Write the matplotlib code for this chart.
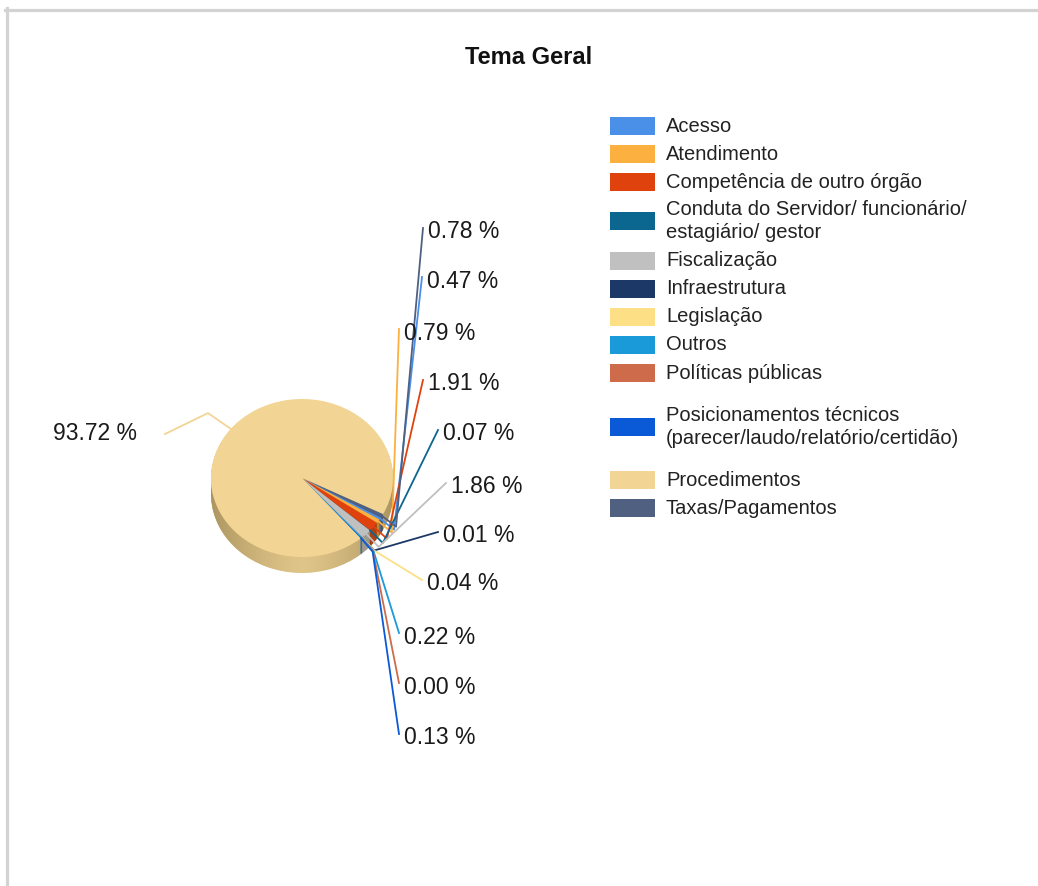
import numpy as np
import matplotlib
matplotlib.use("Agg")
import matplotlib.pyplot as plt
from matplotlib.patches import Polygon, Rectangle
from matplotlib.lines import Line2D
from matplotlib.colors import to_rgb

plt.rcParams['font.family'] = ['Liberation Sans', 'DejaVu Sans']

# dados
categorias = ['Acesso', 'Atendimento', 'Competência de outro órgão',
              'Conduta do Servidor/ funcionário/\nestagiário/ gestor',
              'Fiscalização', 'Infraestrutura', 'Legislação', 'Outros',
              'Políticas públicas',
              'Posicionamentos técnicos\n(parecer/laudo/relatório/certidão)',
              'Procedimentos', 'Taxas/Pagamentos']
percentuais = [0.47, 0.79, 1.91, 0.07, 1.86, 0.01, 0.04, 0.22, 0.00, 0.13, 93.72, 0.78]
cores = ['#4a8fe8', '#fbb040', '#e0420e', '#0b6690', '#c0c0c0', '#1c3867',
         '#fddf86', '#1a9ad9', '#cd6b4b', '#0a5ad7', '#f2d594', '#4f6080']

# posicao dos rotulos (pixels, borda esquerda / centro)
pos_rotulos = [(427, 281), (404, 333), (428, 384), (443, 434), (451, 487),
               (443, 536), (427, 584), (404, 637), (404, 687), (404, 738),
               (53, 434), (428, 232)]
# centro vertical de cada item da legenda (pixels)
y_legenda = [126, 154, 182, 221, 261, 289, 317, 345, 373, 427, 480, 508]

W, H = 1038, 886
CX, CY = 302, 478      # centro da pizza em pixels
RX, RY = 91, 79        # raio horizontal / vertical em pixels
D = 16 / RY            # espessura

def px(x, y):
    return (x - CX) / RX, (CY - y) / RY

fig = plt.figure(figsize=(W / 100, H / 100), dpi=100)
ax = fig.add_axes([0, 0, 1, 1])

def escurecer(c, f=0.8):
    r, g, b = to_rgb(c)
    return (r * f, g * f, b * f)

cores_lado = [escurecer(c, 0.92) for c in cores]

# lateral (camadas)
for k in np.linspace(D, 0.01, 25):
    ax.pie(percentuais, colors=cores_lado, startangle=-30, counterclock=False,
           radius=1, center=(0, -k), wedgeprops=dict(linewidth=0))

# sombreamento da lateral
t = np.linspace(np.pi, 2 * np.pi, 200)
banda = np.concatenate([np.c_[np.cos(t), np.sin(t)],
                        np.c_[np.cos(t[::-1]), np.sin(t[::-1]) - D]])
poly = Polygon(banda, closed=True, facecolor='none', edgecolor='none')
ax.add_patch(poly)
xs = np.linspace(-1, 1, 300)
grad = np.zeros((2, 300, 4))
grad[..., :3] = np.array(to_rgb('#5a4a20'))
grad[..., 3] = 0.38 * np.abs(xs) ** 1.4
im = ax.imshow(grad, extent=(-1, 1, -1 - D, 0), aspect='auto', zorder=3)
im.set_clip_path(poly)

# topo
wedges, _ = ax.pie(percentuais, colors=cores, startangle=-30, counterclock=False,
                   radius=1, center=(0, 0), wedgeprops=dict(linewidth=0))
for w in wedges:
    w.set_zorder(4)

# rotulos e linhas de chamada
for w, p, c, (lx, ly) in zip(wedges, percentuais, cores, pos_rotulos):
    ang = np.deg2rad((w.theta1 + w.theta2) / 2)
    x0, y0 = np.cos(ang), np.sin(ang)
    tx, ty = px(lx, ly)
    if p > 50:
        ex, ey = 1.32 * x0, 1.32 * y0
        fx, fy = px(lx + 112, ly)
    else:
        ex, ey = 1.12 * x0 + 0.05, 1.12 * y0 - 0.08
        fx, fy = px(lx - 5, ly - 4)
    ax.plot([x0, ex, fx], [y0, ey, fy], color=c, lw=1.3, zorder=5)
    ax.text(tx, ty, '{:.2f} %'.format(p), ha='left', va='center',
            fontsize=16.5, color='#1a1a1a', zorder=6)

ax.set_aspect('auto')
ax.set_xlim(-CX / RX, (W - CX) / RX)
ax.set_ylim(-(H - CY) / RY, CY / RY)
ax.axis('off')

# titulo
fig.text(529 / W, 1 - 57 / H, 'Tema Geral', ha='center', va='center',
         fontsize=17, fontweight='bold', color='#111111')

# legenda
for nome, c, yl in zip(categorias, cores, y_legenda):
    fig.add_artist(Rectangle((610 / W, 1 - (yl + 9) / H), 45 / W, 18 / H,
                             facecolor=c, edgecolor='none',
                             transform=fig.transFigure))
    fig.text(666 / W, 1 - yl / H, nome, ha='left', va='center',
             fontsize=14.5, color='#222222', linespacing=1.3)

# moldura
fig.add_artist(Line2D([6.5 / W, 6.5 / W], [0, 1 - 8 / H], color='#d3d3d3',
                      lw=2.3, transform=fig.transFigure))
fig.add_artist(Line2D([5 / W, 1], [1 - 9.5 / H, 1 - 9.5 / H], color='#d3d3d3',
                      lw=2.3, transform=fig.transFigure))

fig.savefig('out.png', dpi=100)
